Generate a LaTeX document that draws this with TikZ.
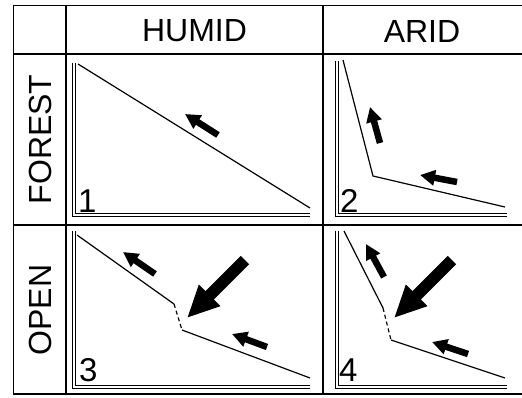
\documentclass[tikz,border=0pt]{standalone}
\usepackage{fontspec}
\setmainfont{Liberation Sans}
\usetikzlibrary{arrows.meta}

\begin{document}
\begin{tikzpicture}[
        x=1pt, y=-1pt,
        grid/.style={line width=1.2pt},
        axis/.style={double, line width=0.75pt, double distance=1.6pt},
        curve/.style={line width=1.2pt},
        gap/.style={line width=1.2pt, dash pattern=on 4pt off 3pt},
        head/.style={font=\fontsize{32}{32}\selectfont, inner sep=0pt},
        num/.style={font=\fontsize{33}{33}\selectfont, inner sep=0pt, anchor=base west},
        smallarr/.style={line width=6.5pt, -{Triangle[length=15pt, width=15pt]}},
        bigarr/.style={line width=12pt, -{Triangle[length=32pt, width=28pt]}}
    ]
        \useasboundingbox (0,0) rectangle (522,397);
        % table
        \draw[grid] (13.5,5.5) rectangle (524,394);
        \draw[grid] (66,5.5) -- (66,394);
        \draw[grid] (323,5.5) -- (323,394);
        \draw[grid] (13.5,54) -- (524,54);
        \draw[grid] (13.5,225) -- (524,225);
        \node[head] (humid) at (194.5,31) {HUMID};
        \node[head] (arid) at (422,31) {ARID};
        \node[head, rotate=90] (forest) at (40,139.5) {FOREST};
        \node[head, rotate=90] (open) at (40,310) {OPEN};
        % axes
        \draw[axis] (74,63) -- (74,215) -- (310,215);
        \draw[axis] (337,61) -- (337,215) -- (507,215);
        \draw[axis] (74,231) -- (74,387) -- (310,387);
        \draw[axis] (337,231) -- (337,387) -- (507,387);
        \node[num] (n1) at (78,212) {1};
        \node[num] (n2) at (340,212) {2};
        \node[num] (n3) at (79,381) {3};
        \node[num] (n4) at (339,381) {4};
        % panel 1
        \draw[curve] (78,64) -- (310,208);
        \draw[smallarr] (218,135) -- (185,114);
        % panel 2
        \draw[curve] (343,60) -- (373,176) -- (505,207);
        \draw[smallarr] (380,143) -- (370,107);
        \draw[smallarr] (457,182) -- (420,175);
        % panel 3
        \draw[curve] (77,235) -- (174,304);
        \draw[gap] (174,304) -- (182,330);
        \draw[curve] (182,330) -- (310,378);
        \draw[smallarr] (155,274) -- (123,252);
        \draw[smallarr] (267,347) -- (232,334);
        \draw[bigarr] (245,260) -- (187,318);
        % panel 4
        \draw[curve] (344,231) -- (383,308);
        \draw[gap] (383,308) -- (391,340);
        \draw[curve] (391,340) -- (505,378);
        \draw[smallarr] (384,277) -- (366,244);
        \draw[smallarr] (468,354) -- (432,342);
        \draw[bigarr] (452,260) -- (394,318);
    \end{tikzpicture}
\end{document}
